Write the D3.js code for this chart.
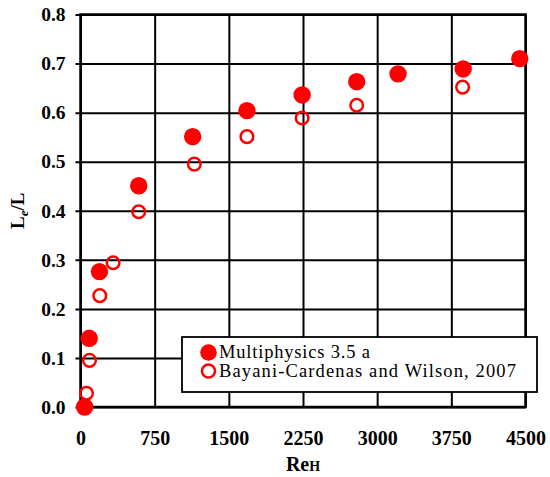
<!DOCTYPE html>
<html>
<head>
<meta charset="utf-8">
<script src="https://cdn.jsdelivr.net/npm/d3@7"></script>
<style>
  body { margin: 0; background: #fff; }
  svg { display: block; font-family: 'Liberation Serif', 'Times New Roman', serif; }
</style>
</head>
<body>
<div class="chart"></div>
<script>
// Multiphysics 3.5a results
const reSim = [42, 88, 192, 589, 1134, 1683, 2241, 2793, 3211, 3870, 4442]
const leSim = [0.0, 0.14, 0.276, 0.451, 0.551, 0.604, 0.636, 0.663, 0.679, 0.689, 0.71]
// Bayani-Cardenas and Wilson, 2007
const reObs = [61, 91, 195, 330, 589, 1151, 1683, 2241, 2793, 3864]
const leObs = [0.028, 0.095, 0.227, 0.294, 0.398, 0.495, 0.551, 0.589, 0.615, 0.652]

const xTicks = [0, 750, 1500, 2250, 3000, 3750, 4500]
const yTicks = [0, 0.1, 0.2, 0.3, 0.4, 0.5, 0.6, 0.7, 0.8]
const seriesNames = ['Multiphysics 3.5 a', 'Bayani-Cardenas and Wilson, 2007']

const WIDTH = 550
const HEIGHT = 477
const margin = {top: 14.5, right: 24.5, bottom: 70, left: 80.5}
const w = WIDTH - margin.left - margin.right
const h = HEIGHT - margin.top - margin.bottom
const RED = '#ff0000'
const SERIF = "'Liberation Serif', 'Times New Roman', serif"

const x = d3.scaleLinear().domain([0, 4500]).range([0, w])
const y = d3.scaleLinear().domain([0, 0.8]).range([h, 0])

const svg = d3.select('.chart')
  .append('svg')
  .attr('width', WIDTH)
  .attr('height', HEIGHT)

const g = svg.append('g')
  .attr('transform', 'translate(' + margin.left + ',' + margin.top + ')')

// y grid + labels
const gy = g.append('g')
  .call(d3.axisLeft(y)
    .tickValues(yTicks)
    .tickSize(-w)
    .tickPadding(15)
    .tickFormat(d3.format('.1f')))
  .attr('font-family', SERIF)
gy.select('.domain').remove()
gy.selectAll('line').attr('x1', -5).attr('stroke', '#000').attr('stroke-width', 2)
gy.selectAll('text')
  .style('font-size', '19.5px')
  .style('font-weight', 'bold')
  .attr('fill', '#000')

// x grid + labels
const gx = g.append('g')
  .attr('transform', 'translate(0,' + h + ')')
  .call(d3.axisBottom(x)
    .tickValues(xTicks)
    .tickSize(-h)
    .tickPadding(24)
    .tickFormat(d3.format('d')))
  .attr('font-family', SERIF)
gx.select('.domain').remove()
gx.selectAll('line').attr('stroke', '#000').attr('stroke-width', 2)
gx.selectAll('text')
  .style('font-size', '20px')
  .style('font-weight', 'bold')
  .attr('fill', '#000')

// frame
g.append('rect')
  .attr('width', w)
  .attr('height', h)
  .attr('fill', 'none')
  .attr('stroke', '#000')
  .attr('stroke-width', 2.5)

// axis titles
const yTitle = svg.append('text')
  .attr('transform', 'translate(24,' + (margin.top + h / 2) + ') rotate(-90)')
  .attr('text-anchor', 'middle')
  .style('font-size', '19px')
  .style('font-weight', 'bold')
yTitle.append('tspan').text('L')
yTitle.append('tspan').attr('dy', 4).style('font-size', '13px').style('font-style', 'italic').text('e')
yTitle.append('tspan').attr('dy', -4).text('/L')

const xTitle = svg.append('text')
  .attr('x', margin.left + w / 2)
  .attr('y', 471)
  .attr('text-anchor', 'middle')
  .style('font-size', '20px')
  .style('font-weight', 'bold')
xTitle.append('tspan').text('Re')
xTitle.append('tspan').style('font-size', '14px').text('H')

// data: open first, filled on top
g.selectAll('circle.obs')
  .data(reObs)
  .enter()
  .append('circle')
  .attr('class', 'obs')
  .attr('cx', d => x(d))
  .attr('cy', (d, i) => y(leObs[i]))
  .attr('r', 6.3)
  .attr('fill', 'none')
  .attr('stroke', RED)
  .attr('stroke-width', 2.5)

g.selectAll('circle.sim')
  .data(reSim)
  .enter()
  .append('circle')
  .attr('class', 'sim')
  .attr('cx', d => x(d))
  .attr('cy', (d, i) => y(leSim[i]))
  .attr('r', 8.7)
  .attr('fill', RED)

// legend
const lg = svg.append('g').attr('transform', 'translate(182,337)')
lg.append('rect')
  .attr('width', 355)
  .attr('height', 55)
  .attr('fill', '#fff')
  .attr('stroke', '#000')
  .attr('stroke-width', 1.8)
lg.append('circle').attr('cx', 26.5).attr('cy', 15.5).attr('r', 8.3).attr('fill', RED)
lg.append('circle').attr('cx', 26.5).attr('cy', 34).attr('r', 6.5)
  .attr('fill', 'none').attr('stroke', RED).attr('stroke-width', 2.5)
const legendLen = [151, 297]
lg.selectAll('text.leg')
  .data(seriesNames)
  .enter()
  .append('text')
  .attr('class', 'leg')
  .attr('x', 37)
  .attr('y', (d, i) => 21 + i * 18.5)
  .attr('textLength', (d, i) => legendLen[i])
  .attr('lengthAdjust', 'spacing')
  .style('font-size', '18.5px')
  .text(d => d)
</script>
</body>
</html>
